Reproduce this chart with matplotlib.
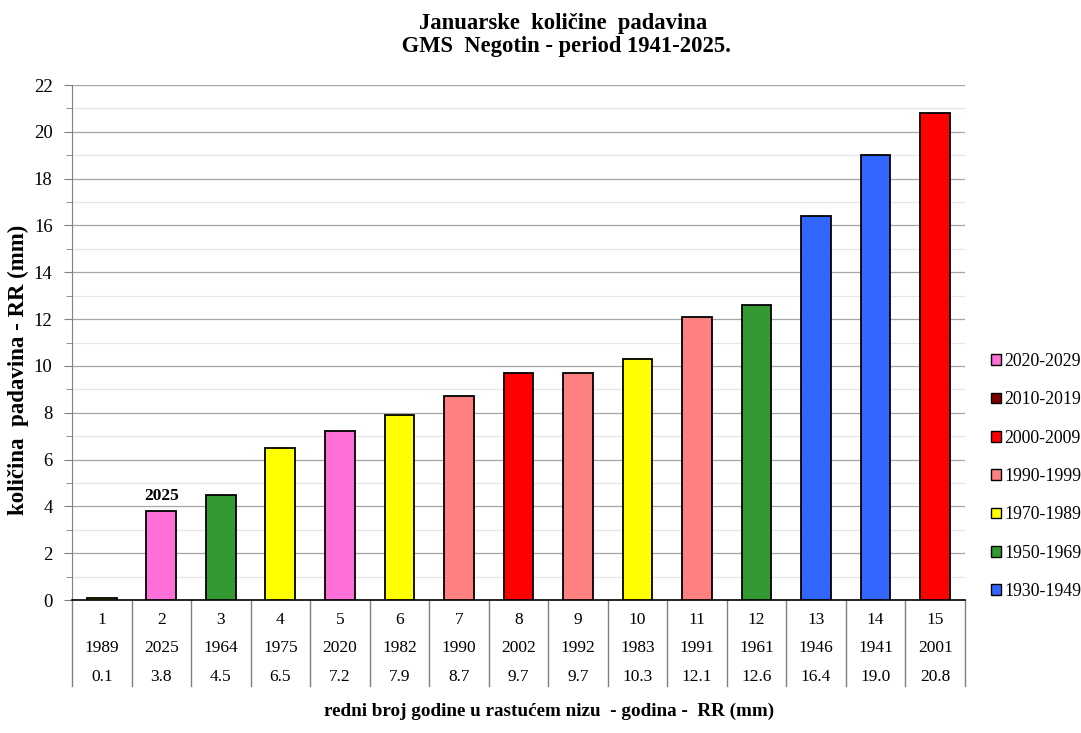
import matplotlib.pyplot as plt
from matplotlib.patches import Patch
from matplotlib.transforms import blended_transform_factory
from matplotlib.ticker import MultipleLocator

plt.rcParams['font.family'] = ['Liberation Serif', 'DejaVu Serif']

# rang, godina, padavine (mm), dekada
rank = list(range(1, 16))
years = [1989, 2025, 1964, 1975, 2020, 1982, 1990, 2002, 1992, 1983, 1991, 1961, 1946, 1941, 2001]
rr = [0.1, 3.8, 4.5, 6.5, 7.2, 7.9, 8.7, 9.7, 9.7, 10.3, 12.1, 12.6, 16.4, 19.0, 20.8]
decade = ['1970-1989', '2020-2029', '1950-1969', '1970-1989', '2020-2029', '1970-1989',
          '1990-1999', '2000-2009', '1990-1999', '1970-1989', '1990-1999', '1950-1969',
          '1930-1949', '1930-1949', '2000-2009']

periods = ['2020-2029', '2010-2019', '2000-2009', '1990-1999', '1970-1989', '1950-1969', '1930-1949']
period_colors = ['#FF6FD8', '#800000', '#FF0000', '#FF8080', '#FFFF00', '#339933', '#3366FF']
cmap = dict(zip(periods, period_colors))

fig = plt.figure(figsize=(10.81, 7.33), dpi=100)
ax = fig.add_axes([0.0666, 0.1814, 0.826, 0.7026])

ax.bar(rank, rr, width=0.5, color=[cmap[d] for d in decade], edgecolor='black', linewidth=1.3, zorder=3)
ax.set_xlim(0.5, 15.5)
ax.set_ylim(0, 22)
ax.yaxis.set_major_locator(MultipleLocator(2))
ax.yaxis.set_minor_locator(MultipleLocator(1))
ax.grid(axis='y', which='major', color='#a6a6a6', linewidth=0.9, zorder=0)
ax.grid(axis='y', which='minor', color='#e6e6e6', linewidth=0.9, zorder=0)
ax.tick_params(axis='y', which='both', direction='out', labelsize=13.5, color='#808080', pad=8)
ax.tick_params(axis='y', which='major', length=6)
ax.tick_params(axis='y', which='minor', length=4)
ax.set_xticks([])
for s in ['top', 'right']:
    ax.spines[s].set_visible(False)
ax.spines['left'].set_color('#808080')
ax.spines['bottom'].set_color('black')
ax.spines['bottom'].set_linewidth(1.2)

ax.text(2, 3.8 + 0.3, '2025', ha='center', va='bottom', fontsize=12.5, fontweight='bold')

# tabela ispod grafika
tr = blended_transform_factory(ax.transData, ax.transAxes)
for i in range(16):
    ax.plot([0.5 + i, 0.5 + i], [0, -0.167], transform=tr, color='#808080', linewidth=1, clip_on=False)
for r, y, v in zip(rank, years, rr):
    ax.text(r, -0.039, str(r), transform=tr, ha='center', va='center', fontsize=12.5)
    ax.text(r, -0.093, str(y), transform=tr, ha='center', va='center', fontsize=12.5)
    ax.text(r, -0.150, f'{v:.1f}', transform=tr, ha='center', va='center', fontsize=12.5)

fig.text(0.017, 0.495, 'količina  padavina - RR (mm)', rotation=90, ha='center', va='center',
         fontsize=16.5, fontweight='bold')
fig.text(0.508, 0.018, 'redni broj godine u rastućem nizu  - godina -  RR (mm)', ha='center', va='bottom',
         fontsize=13.8, fontweight='bold')
fig.text(0.521, 0.922, 'Januarske  količine  padavina\n GMS  Negotin - period 1941-2025.', ha='center',
         va='bottom', fontsize=16.3, fontweight='bold', linespacing=1.15)

handles = [Patch(facecolor=c, edgecolor='black', linewidth=1) for c in period_colors]
fig.legend(handles, periods, loc='center left', bbox_to_anchor=(0.9165, 0.35), frameon=False,
           fontsize=12.8, handlelength=0.55, handleheight=0.55, handletextpad=0.2, labelspacing=1.2,
           borderpad=0, borderaxespad=0)

fig.savefig('out.png', dpi=100)
